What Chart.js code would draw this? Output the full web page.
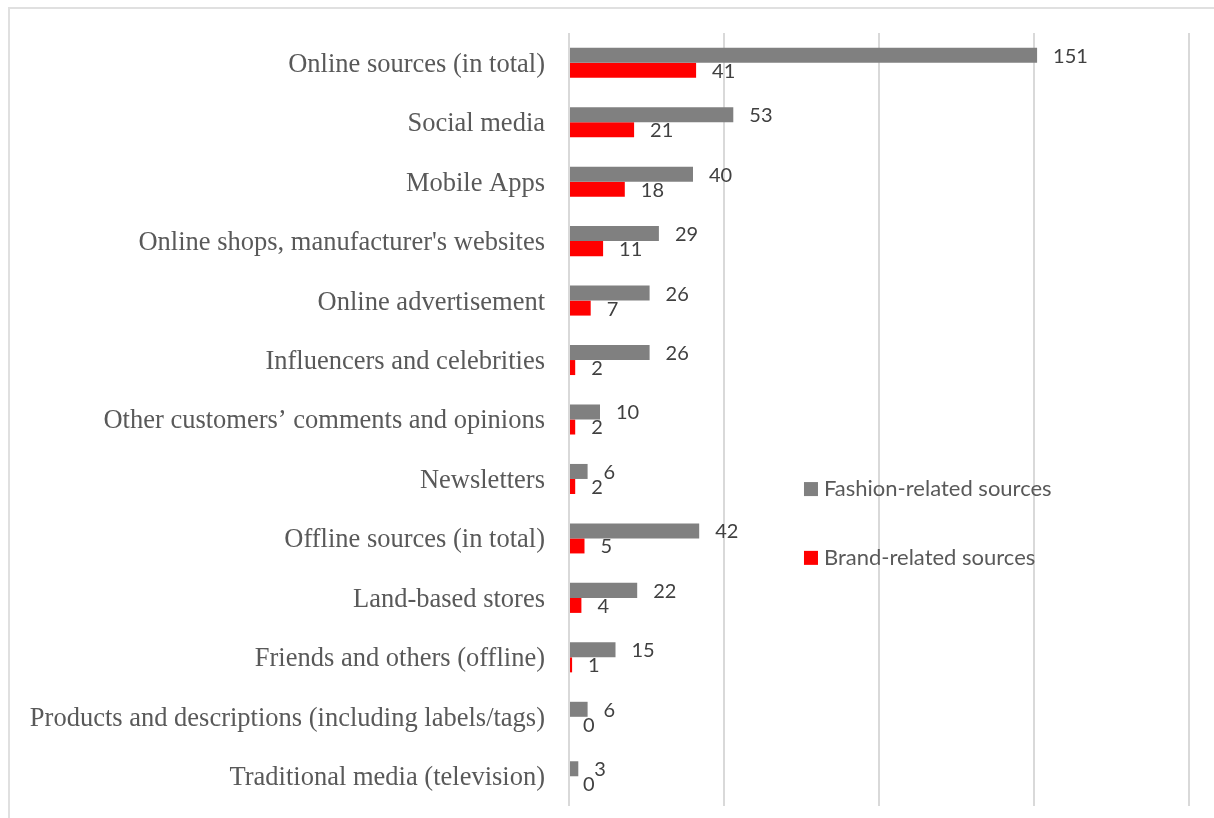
<!DOCTYPE html>
<html>
<head>
<meta charset="utf-8">
<script src="https://cdn.jsdelivr.net/npm/chart.js@4"></script>
<style>
  html, body { margin: 0; padding: 0; background: #fff; overflow: hidden; }
  #frame { position: absolute; left: 8px; top: 7px; width: 1240px; height: 850px; border: 2px solid #e0e0e0; }
  #wrap { position: absolute; left: 0; top: 0; width: 1214px; height: 818px; }
</style>
</head>
<body>
<div id="frame"></div>
<div id="wrap"><canvas id="chart"></canvas></div>
<script>
const categorie = [
  'Online sources (in total)',
  'Social media',
  'Mobile Apps',
  "Online shops, manufacturer's websites",
  'Online advertisement',
  'Influencers and celebrities',
  'Other customers\u2019 comments and opinions',
  'Newsletters',
  'Offline sources (in total)',
  'Land-based stores',
  'Friends and others (offline)',
  'Products and descriptions (including labels/tags)',
  'Traditional media (television)'
];
const fashion = [151, 53, 40, 29, 26, 26, 10, 6, 42, 22, 15, 6, 3];
const brand = [41, 21, 18, 11, 7, 2, 2, 2, 5, 4, 1, 0, 0];
const nomiSerie = ['Fashion-related sources', 'Brand-related sources'];
const colori = ['#808080', '#FF0000'];
const xMin = 0, xMax = 200, xStep = 50;

// etichette dei valori a destra delle barre
const etichette = {
  id: 'etichette',
  afterDatasetsDraw(chart) {
    const ctx = chart.ctx;
    ctx.save();
    ctx.font = '20px Lato';
    ctx.fillStyle = '#404040';
    ctx.textBaseline = 'middle';
    ctx.textAlign = 'left';
    chart.data.datasets.forEach((ds, i) => {
      chart.getDatasetMeta(i).data.forEach((bar, j) => {
        const off = ds.data[j] === 0 ? 14 : 16;
        ctx.fillText(String(ds.data[j]), bar.x + off, bar.y + 1);
      });
    });
    ctx.restore();
  }
};

// legenda dentro l'area del grafico
const legenda = {
  id: 'legenda',
  afterDraw(chart) {
    const { ctx, chartArea } = chart;
    const w = chartArea.right - chartArea.left;
    const h = chartArea.bottom - chartArea.top;
    const x = chartArea.left + w * 0.379;
    const ys = [chartArea.top + h * 0.59, chartArea.top + h * 0.679];
    ctx.save();
    ctx.font = '22px Lato';
    ctx.textBaseline = 'middle';
    ctx.textAlign = 'left';
    chart.data.datasets.forEach((ds, i) => {
      ctx.fillStyle = ds.backgroundColor;
      ctx.fillRect(x, ys[i] - 7, 14, 14);
      ctx.fillStyle = '#595959';
      ctx.fillText(ds.label, x + 20, ys[i]);
    });
    ctx.restore();
  }
};

document.addEventListener('DOMContentLoaded', () => {
  const ctx = document.getElementById('chart');
  new Chart(ctx, {
    type: 'bar',
    data: {
      labels: categorie,
      datasets: [
        { label: nomiSerie[0], data: fashion, backgroundColor: colori[0] },
        { label: nomiSerie[1], data: brand, backgroundColor: colori[1] }
      ]
    },
    options: {
      indexAxis: 'y',
      responsive: true,
      maintainAspectRatio: false,
      animation: false,
      categoryPercentage: 0.505,
      barPercentage: 1,
      layout: { padding: { left: 0, top: 33, right: 25, bottom: 12 } },
      plugins: {
        legend: { display: false },
        tooltip: { enabled: false }
      },
      scales: {
        x: {
          min: xMin,
          max: xMax,
          ticks: { display: false, stepSize: xStep },
          grid: { color: '#d9d9d9', lineWidth: 2, drawTicks: false },
          border: { display: false },
          afterFit: s => { s.height = 0; s.paddingLeft = 0; s.paddingRight = 0; }
        },
        y: {
          ticks: {
            color: '#595959',
            padding: 24,
            labelOffset: 2,
            autoSkip: false,
            font: { family: '"Liberation Serif", "Times New Roman", serif', size: 26.5 }
          },
          grid: { display: false, drawTicks: false },
          border: { display: false },
          afterFit: s => { s.width = 569; s.paddingTop = 0; s.paddingBottom = 0; }
        }
      }
    },
    plugins: [etichette, legenda]
  });
});
</script>
</body>
</html>
